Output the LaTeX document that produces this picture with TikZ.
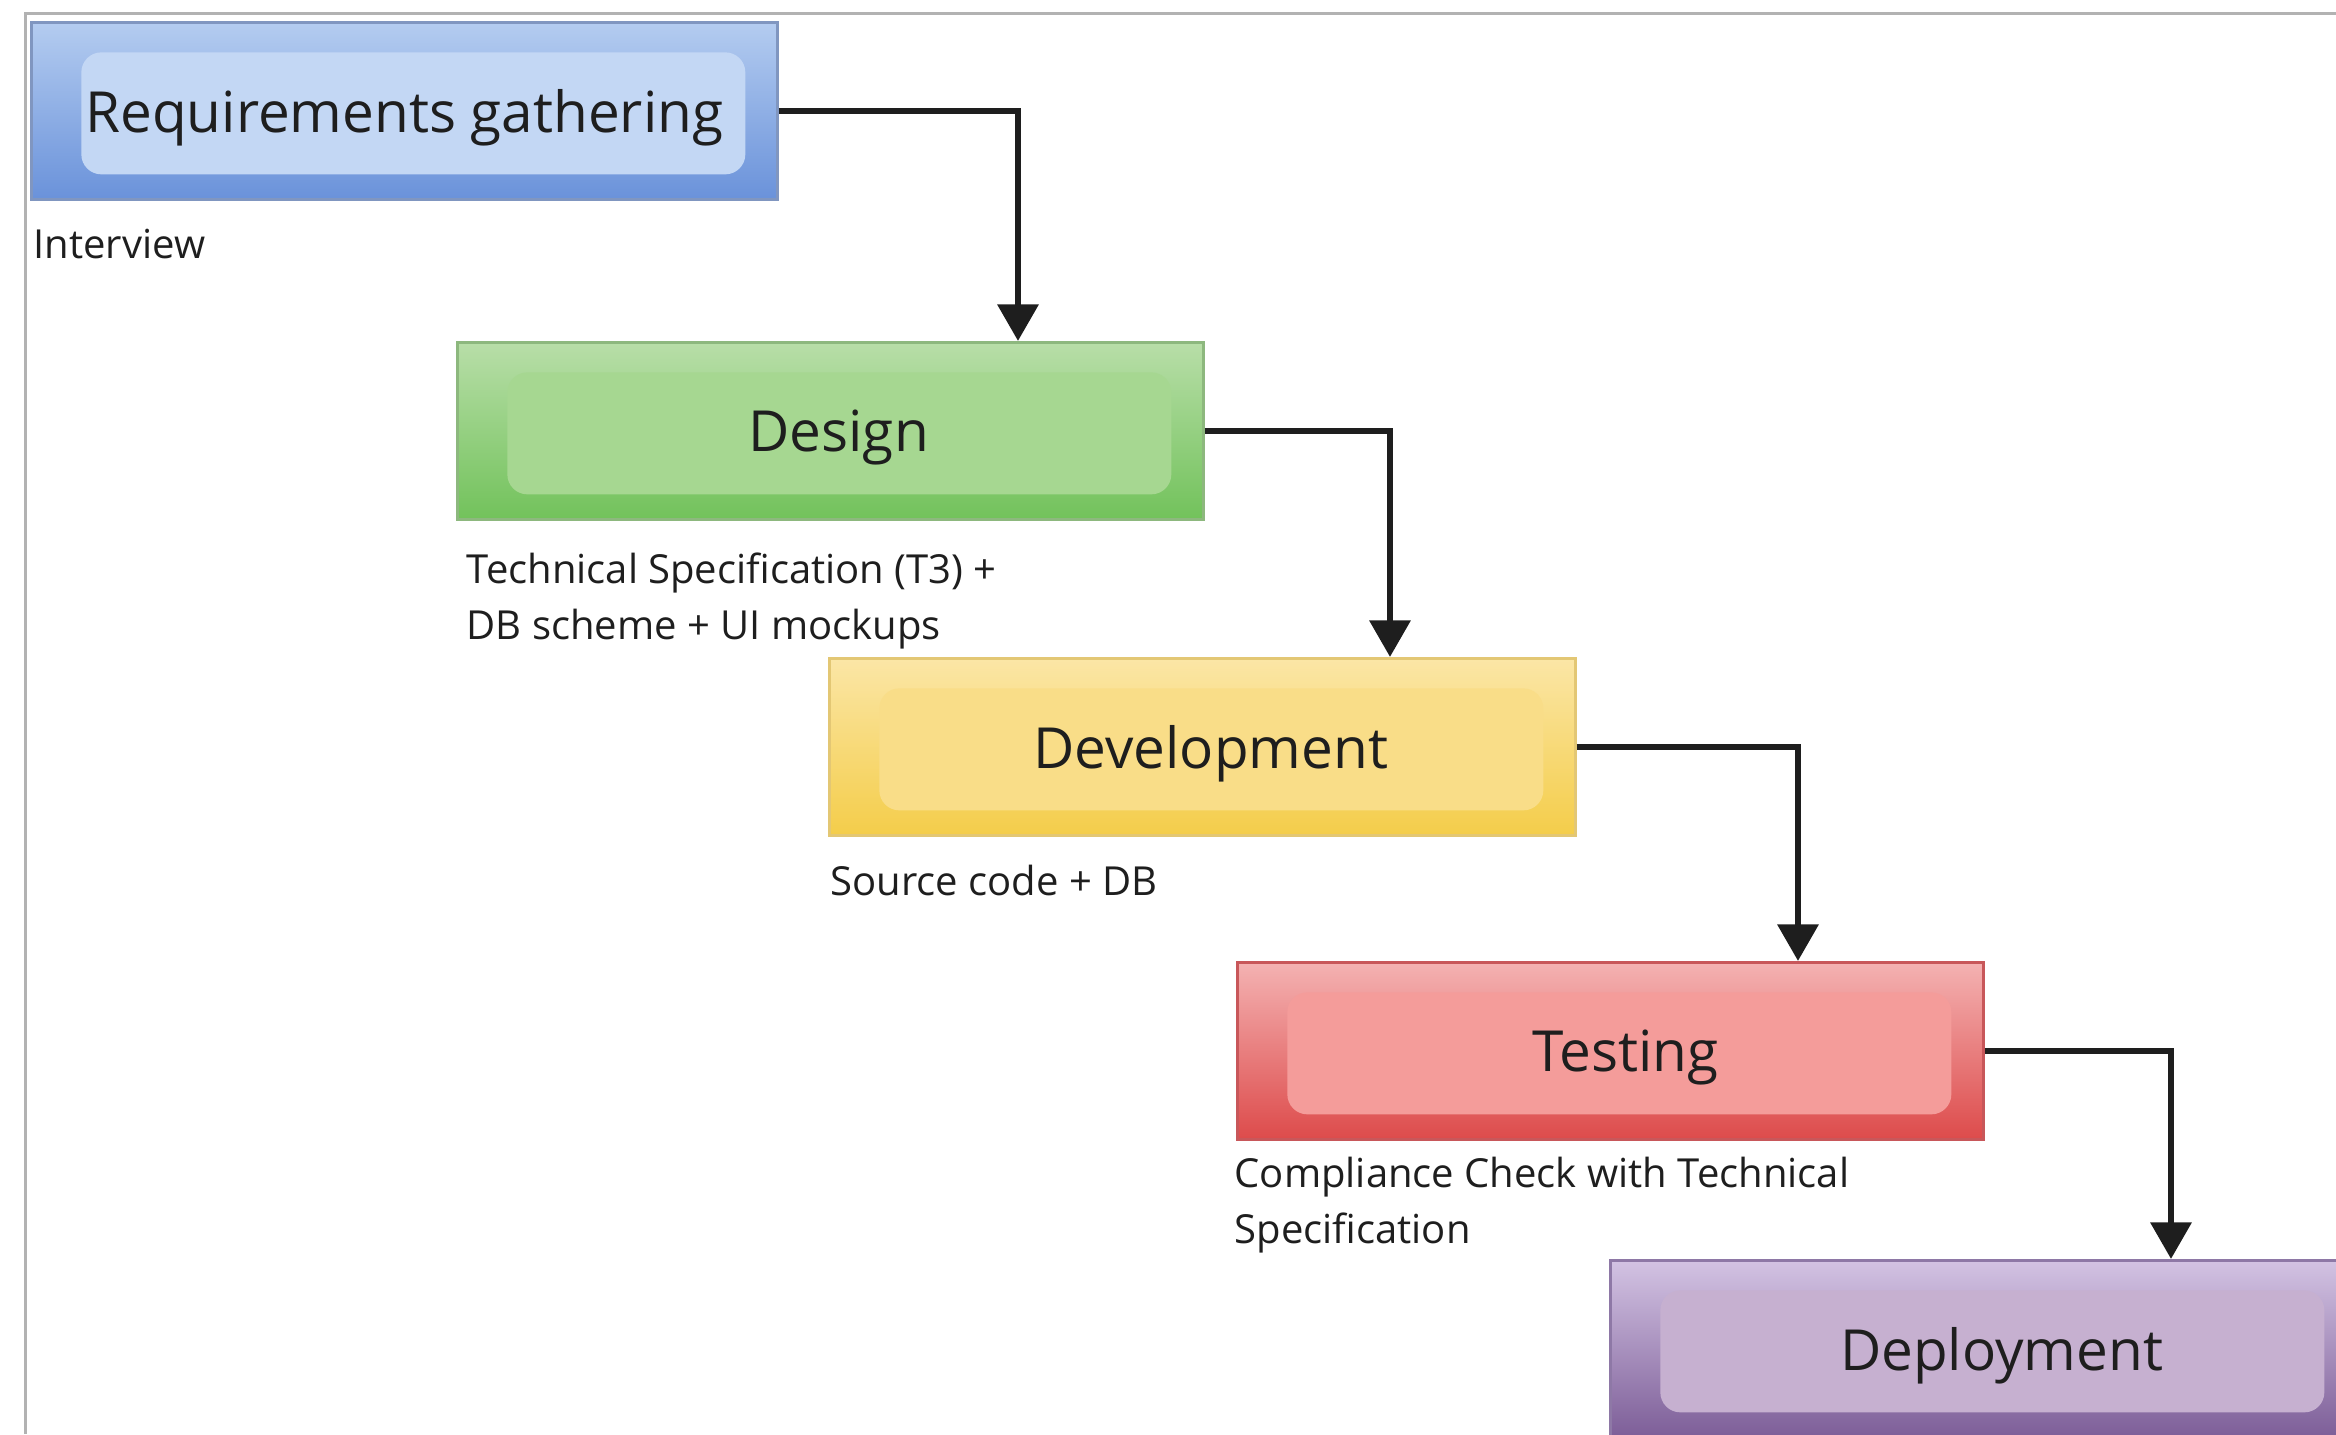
\documentclass[tikz,border=0pt]{standalone}
\usepackage{fontspec}
\setmainfont{Open Sans}
\usetikzlibrary{arrows.meta,positioning}

\definecolor{reqedge}{HTML}{8096C0}
\definecolor{reqtop}{HTML}{B4CCF0}
\definecolor{reqlow}{HTML}{6A92DA}
\definecolor{reqin}{HTML}{C3D7F4}
\definecolor{desedge}{HTML}{8DB87E}
\definecolor{destop}{HTML}{B8DEA8}
\definecolor{deslow}{HTML}{72C25B}
\definecolor{desin}{HTML}{A6D791}
\definecolor{devedge}{HTML}{E3C774}
\definecolor{devtop}{HTML}{FBE6A6}
\definecolor{devlow}{HTML}{F4CD4A}
\definecolor{devin}{HTML}{F9DD88}
\definecolor{tstedge}{HTML}{C8575A}
\definecolor{tsttop}{HTML}{F4B2B2}
\definecolor{tstlow}{HTML}{DD4B4B}
\definecolor{tstin}{HTML}{F49C9A}
\definecolor{depedge}{HTML}{8E78A6}
\definecolor{deptop}{HTML}{D3C3E3}
\definecolor{deplow}{HTML}{7D5E98}
\definecolor{depin}{HTML}{C6B0D0}
\definecolor{ink}{HTML}{1E1E1E}

\tikzset{
  stage/.style={rectangle, draw=#1edge, line width=0.8pt, top color=#1top, bottom color=#1low,
    minimum width=223.8pt, minimum height=53.1pt, anchor=north west, inner sep=0pt,
    text depth=0pt, font=\fontsize{17}{20}\selectfont, text=ink,
    path picture={\fill[#1in, rounded corners=6pt]
      ([shift={(15pt,-9pt)}]path picture bounding box.north west) rectangle
      ([shift={(-9.6pt,7.5pt)}]path picture bounding box.south east);}},
  note/.style={anchor=north west, inner sep=0pt, align=left,
    font=\fontsize{12}{17}\selectfont, text=ink},
  flow/.style={line width=2pt, ink, -{Triangle[width=12pt,length=11pt]}},
  frame/.style={line width=0.9pt, gray!60}
}

\begin{document}
\begin{tikzpicture}[x=0.3pt, y=-0.3pt]
  \useasboundingbox (0,0) rectangle (2336,1434);
  \clip (0,0) rectangle (2336,1434);
  % page frame
  \draw[frame] (25,1434) -- (25,13) -- (2336,13);

  % stages
  \node[stage=req] (req) at (30,21) {Requirements gathering};
  \node[stage=des] (design) at (456,341) {\hspace*{5pt}Design};
  \node[stage=dev] (dev) at (828,657) {\hspace*{5pt}Development};
  \node[stage=tst] (test) at (1236,961) {\hspace*{9pt}Testing};
  \node[stage=dep] (deploy) at (1609,1259) {\hspace*{11pt}Deployment};

  % outputs of each stage
  \node[note] (reqout) at (33,228) {Interview};
  \node[note] (desout) at (466,552) {Technical Specification (T3) +\\DB scheme + UI mockups};
  \node[note] (devout) at (830,864) {Source code + DB};
  \node[note] (tstout) at (1234,1156) {Compliance Check with Technical\\Specification};

  % flow
  \draw[flow] (req.east) -| ([xshift=168.6pt]design.north west);
  \draw[flow] (design.east) -| ([xshift=168.6pt]dev.north west);
  \draw[flow] (dev.east) -| ([xshift=168.6pt]test.north west);
  \draw[flow] (test.east) -| ([xshift=168.6pt]deploy.north west);
\end{tikzpicture}
\end{document}
